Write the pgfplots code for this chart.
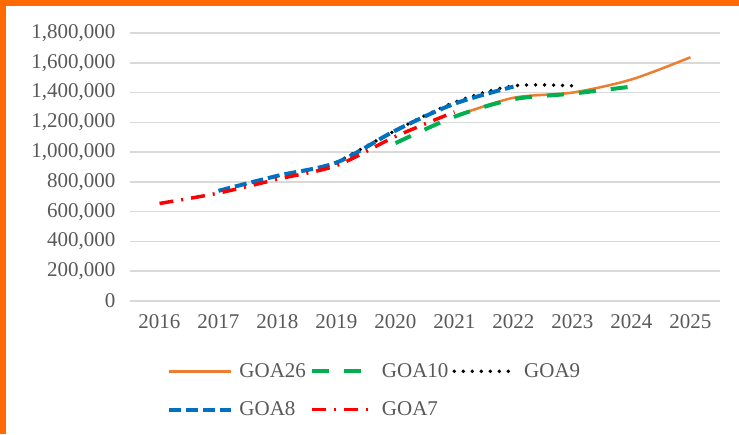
\documentclass[border=0pt]{standalone}
\usepackage{pgfplots}
\pgfplotsset{compat=1.18}
\usepackage{fontspec}
\setmainfont{Liberation Serif}
\definecolor{frameor}{HTML}{FF6A00}
\definecolor{goaor}{HTML}{ED7D31}
\definecolor{goagreen}{HTML}{00B050}
\definecolor{goablue}{HTML}{0070C0}
\definecolor{goared}{HTML}{FF0000}
\definecolor{txtgray}{HTML}{595959}
\definecolor{gridgray}{HTML}{D9D9D9}
\begin{document}
\begin{tikzpicture}[x=1pt,y=1pt]
\fill[white] (0,0) rectangle (739,434);
\fill[frameor] (0,0) rectangle (6,434);
\fill[frameor] (0,428) rectangle (739,434);
\begin{axis}[
  at={(130pt,133pt)}, anchor=south west,
  scale only axis, width=590pt, height=268pt,
  xmin=2015.5, xmax=2025.5, ymin=0, ymax=1800000,
  xtick={2016,...,2025},
  ytick={0,200000,...,1800000},
  scaled y ticks=false,
  axis line style={draw=none},
  major tick length=0pt,
  ymajorgrids, major grid style={gridgray, line width=1.5pt},
  ticklabel style={font=\fontsize{21}{23}\selectfont, text=txtgray},
  /pgf/number format/assume math mode=true,
  yticklabel style={/pgf/number format/fixed, /pgf/number format/1000 sep={,}, xshift=-11pt},
  xticklabel style={/pgf/number format/1000 sep={}, yshift=-10pt},
  legend columns=3,
  legend cell align=left,
  legend style={draw=none, fill=none, at={(0.415,-0.334)}, anchor=center,
    font=\fontsize{21}{23}\selectfont, text=txtgray,
    /tikz/every odd column/.append style={column sep=4pt},
    /tikz/every even column/.append style={column sep=2pt},
    row sep=19pt},
  legend image code/.code={\draw[#1] (0pt,0pt) -- (62pt,0pt);},
]
\addplot[goaor, line width=2.5pt, smooth] coordinates {
 (2021,1240000) (2022,1365000) (2023,1400000) (2024,1488000) (2025,1637000)};
\addlegendentry{GOA26}
\addplot[goagreen, line width=4pt, smooth, dash pattern=on 17pt off 15pt] coordinates {
 (2020,1060000) (2021,1238000) (2022,1355000) (2023,1393000) (2024,1440000)};
\addlegendentry{GOA10}
\addplot[black, line width=3.8pt, smooth, line cap=round, dash pattern=on 0pt off 9pt] coordinates {
 (2019,930000) (2020,1145000) (2021,1335000) (2022,1445000) (2023,1445000)};
\addlegendentry{GOA9}
\addplot[goablue, line width=4pt, smooth, dash pattern=on 12pt off 5pt] coordinates {
 (2017,740000) (2018,841000) (2019,930000) (2020,1145000) (2021,1325000) (2022,1440000)};
\addlegendentry{GOA8}
\addplot[goared, line width=3.5pt, smooth, dash pattern=on 14pt off 8pt on 2pt off 8pt] coordinates {
 (2016,655000) (2017,725000) (2018,818000) (2019,910000) (2020,1105000) (2021,1270000)};
\addlegendentry{GOA7}
\end{axis}
\pgfresetboundingbox
\path[use as bounding box] (0,0) rectangle (739,434);
\end{tikzpicture}
\end{document}
